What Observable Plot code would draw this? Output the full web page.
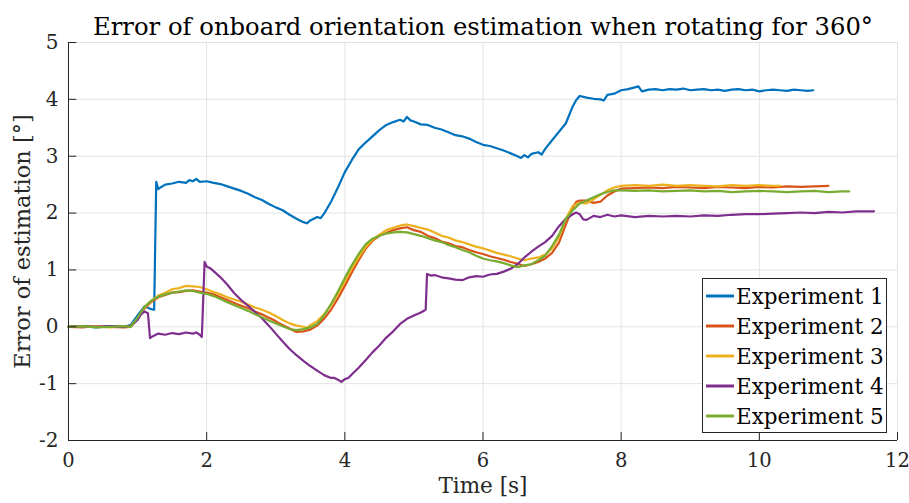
<!DOCTYPE html>
<html>
<head>
<meta charset="utf-8">
<script src="https://cdn.jsdelivr.net/npm/d3@7"></script>
<script src="https://cdn.jsdelivr.net/npm/@observablehq/plot@0.6"></script>
<style>
  html, body { margin: 0; padding: 0; background: #fff; }
  #wrap { position: relative; width: 909px; height: 503px; font-family: "DejaVu Serif", serif; }
  #legend { position: absolute; left: 702px; top: 278px; width: 185px; height: 155px; border: 1px solid #262626; background: #fff; box-sizing: border-box; padding-top: 2px; }
  .item { display: flex; align-items: center; height: 30px; font-size: 21.5px; color: #000; }
  .item svg { margin-left: 3px; margin-right: 2px; }
</style>
</head>
<body>
<div id="wrap"><div id="legend"></div></div>
<script>
const title = "Error of onboard orientation estimation when rotating for 360°";
const xLabel = "Time [s]";
const yLabel = "Error of estimation [°]";
const names = ["Experiment 1", "Experiment 2", "Experiment 3", "Experiment 4", "Experiment 5"];
const colors = ["#0072BD", "#D95319", "#EDB120", "#7E2F8E", "#77AC30"];
const xTicks = [0, 2, 4, 6, 8, 10, 12];
const yTicks = [-2, -1, 0, 1, 2, 3, 4, 5];

// [time s, error °]
const exp1 = [[0,0],[0.2,0.01],[0.4,-0.01],[0.6,0.01],[0.8,0],[0.9,0.03],[1.0,0.2],[1.1,0.36],[1.2,0.31],[1.24,0.3],[1.27,2.55],[1.3,2.42],[1.33,2.45],[1.4,2.5],[1.5,2.52],[1.6,2.55],[1.7,2.53],[1.75,2.58],[1.8,2.56],[1.85,2.6],[1.9,2.55],[2.0,2.56],[2.1,2.53],[2.2,2.51],[2.3,2.47],[2.4,2.43],[2.5,2.39],[2.6,2.34],[2.7,2.28],[2.8,2.23],[2.9,2.16],[3.0,2.1],[3.1,2.05],[3.2,1.97],[3.3,1.9],[3.4,1.84],[3.45,1.82],[3.5,1.87],[3.6,1.93],[3.65,1.91],[3.7,1.99],[3.8,2.2],[3.9,2.45],[4.0,2.72],[4.1,2.93],[4.2,3.12],[4.3,3.24],[4.4,3.35],[4.5,3.46],[4.6,3.55],[4.7,3.6],[4.8,3.64],[4.85,3.61],[4.9,3.69],[4.95,3.63],[5.0,3.61],[5.1,3.56],[5.2,3.55],[5.3,3.5],[5.4,3.47],[5.5,3.42],[5.6,3.37],[5.7,3.35],[5.8,3.31],[5.9,3.25],[6.0,3.2],[6.1,3.18],[6.2,3.14],[6.3,3.1],[6.4,3.05],[6.5,3.0],[6.55,2.97],[6.6,3.02],[6.65,2.98],[6.7,3.04],[6.8,3.07],[6.85,3.03],[6.9,3.13],[7.0,3.28],[7.1,3.43],[7.2,3.58],[7.3,3.88],[7.35,3.99],[7.4,4.06],[7.5,4.03],[7.6,4.01],[7.7,4.0],[7.75,3.98],[7.8,4.08],[7.9,4.1],[8.0,4.16],[8.1,4.18],[8.2,4.21],[8.25,4.23],[8.3,4.14],[8.4,4.17],[8.5,4.18],[8.6,4.16],[8.7,4.18],[8.8,4.17],[8.9,4.19],[9.0,4.16],[9.1,4.17],[9.2,4.18],[9.3,4.16],[9.4,4.17],[9.5,4.15],[9.6,4.17],[9.7,4.18],[9.8,4.16],[9.9,4.17],[10.0,4.14],[10.1,4.16],[10.2,4.17],[10.3,4.16],[10.4,4.15],[10.5,4.17],[10.6,4.16],[10.7,4.15],[10.78,4.16]];
const exp2 = [[0,0],[0.2,-0.01],[0.4,0.01],[0.6,0],[0.8,-0.01],[0.9,0],[1.0,0.14],[1.1,0.32],[1.2,0.44],[1.3,0.52],[1.4,0.56],[1.5,0.6],[1.6,0.61],[1.7,0.63],[1.8,0.64],[1.9,0.62],[2.0,0.6],[2.1,0.57],[2.2,0.52],[2.3,0.47],[2.4,0.42],[2.5,0.37],[2.6,0.33],[2.7,0.27],[2.8,0.22],[2.9,0.16],[3.0,0.1],[3.1,0.03],[3.2,-0.03],[3.3,-0.09],[3.4,-0.08],[3.5,-0.05],[3.6,0.02],[3.7,0.14],[3.8,0.3],[3.9,0.5],[4.0,0.72],[4.1,0.95],[4.2,1.17],[4.3,1.37],[4.4,1.51],[4.5,1.6],[4.6,1.65],[4.7,1.7],[4.8,1.73],[4.9,1.75],[5.0,1.7],[5.1,1.67],[5.2,1.6],[5.3,1.56],[5.4,1.5],[5.5,1.47],[5.6,1.42],[5.7,1.4],[5.8,1.35],[5.9,1.31],[6.0,1.28],[6.1,1.24],[6.2,1.21],[6.3,1.18],[6.4,1.14],[6.5,1.11],[6.6,1.07],[6.7,1.1],[6.8,1.14],[6.9,1.2],[7.0,1.3],[7.1,1.48],[7.2,1.8],[7.3,2.1],[7.35,2.2],[7.4,2.22],[7.5,2.22],[7.6,2.18],[7.7,2.2],[7.8,2.31],[7.9,2.38],[8.0,2.43],[8.2,2.44],[8.4,2.45],[8.6,2.44],[8.8,2.46],[9.0,2.45],[9.2,2.44],[9.4,2.46],[9.6,2.45],[9.8,2.44],[10.0,2.46],[10.2,2.45],[10.4,2.47],[10.6,2.46],[10.8,2.47],[11.0,2.48]];
const exp3 = [[0,0.01],[0.2,0],[0.4,0.01],[0.6,-0.01],[0.8,0.01],[0.9,0],[1.0,0.15],[1.1,0.34],[1.2,0.46],[1.3,0.55],[1.4,0.6],[1.5,0.66],[1.6,0.68],[1.7,0.72],[1.8,0.71],[1.9,0.7],[2.0,0.66],[2.1,0.61],[2.2,0.57],[2.3,0.52],[2.4,0.48],[2.5,0.44],[2.6,0.39],[2.7,0.34],[2.8,0.3],[2.9,0.25],[3.0,0.19],[3.1,0.12],[3.2,0.06],[3.3,0.02],[3.4,0.0],[3.45,-0.02],[3.5,0.03],[3.6,0.1],[3.7,0.22],[3.8,0.38],[3.9,0.58],[4.0,0.8],[4.1,1.02],[4.2,1.22],[4.3,1.4],[4.4,1.53],[4.5,1.62],[4.6,1.7],[4.7,1.74],[4.8,1.78],[4.9,1.8],[5.0,1.77],[5.1,1.74],[5.2,1.71],[5.3,1.66],[5.4,1.6],[5.5,1.57],[5.6,1.52],[5.7,1.49],[5.8,1.45],[5.9,1.41],[6.0,1.38],[6.1,1.34],[6.2,1.3],[6.3,1.27],[6.4,1.24],[6.5,1.2],[6.6,1.17],[6.7,1.2],[6.8,1.22],[6.9,1.27],[7.0,1.38],[7.1,1.58],[7.2,1.9],[7.3,2.13],[7.4,2.18],[7.5,2.17],[7.6,2.24],[7.7,2.32],[7.8,2.4],[7.9,2.45],[8.0,2.48],[8.2,2.49],[8.4,2.48],[8.6,2.5],[8.8,2.48],[9.0,2.49],[9.2,2.48],[9.4,2.47],[9.6,2.49],[9.8,2.48],[10.0,2.49],[10.2,2.48],[10.3,2.48]];
const exp4 = [[0,0],[0.2,0.01],[0.4,0],[0.6,0.01],[0.8,0],[0.9,0.01],[1.0,0.12],[1.05,0.22],[1.1,0.27],[1.15,0.24],[1.18,-0.2],[1.2,-0.18],[1.3,-0.12],[1.4,-0.14],[1.5,-0.11],[1.6,-0.13],[1.7,-0.1],[1.8,-0.12],[1.85,-0.1],[1.9,-0.14],[1.93,-0.18],[1.97,1.14],[2.0,1.06],[2.05,1.03],[2.1,0.98],[2.2,0.87],[2.3,0.74],[2.4,0.59],[2.5,0.47],[2.6,0.37],[2.7,0.26],[2.8,0.15],[2.9,0.02],[3.0,-0.12],[3.1,-0.26],[3.2,-0.39],[3.3,-0.5],[3.4,-0.6],[3.5,-0.69],[3.6,-0.77],[3.7,-0.85],[3.8,-0.9],[3.85,-0.9],[3.9,-0.93],[3.95,-0.97],[4.0,-0.92],[4.05,-0.9],[4.1,-0.84],[4.2,-0.72],[4.3,-0.59],[4.4,-0.45],[4.5,-0.33],[4.6,-0.19],[4.7,-0.08],[4.8,0.05],[4.9,0.14],[5.0,0.2],[5.1,0.25],[5.17,0.3],[5.19,0.93],[5.25,0.9],[5.3,0.91],[5.4,0.87],[5.5,0.85],[5.6,0.83],[5.7,0.82],[5.8,0.87],[5.9,0.89],[6.0,0.88],[6.1,0.92],[6.2,0.93],[6.3,0.97],[6.4,1.02],[6.5,1.1],[6.6,1.22],[6.7,1.32],[6.8,1.41],[6.9,1.49],[7.0,1.6],[7.1,1.77],[7.2,1.9],[7.3,1.98],[7.35,2.01],[7.4,1.98],[7.45,1.89],[7.5,1.88],[7.6,1.95],[7.7,1.93],[7.8,1.97],[7.9,1.94],[8.0,1.96],[8.2,1.93],[8.4,1.95],[8.6,1.94],[8.8,1.95],[9.0,1.94],[9.2,1.96],[9.4,1.95],[9.6,1.97],[9.8,1.98],[10.0,1.98],[10.2,1.99],[10.4,2.0],[10.6,2.01],[10.8,2.0],[11.0,2.02],[11.2,2.01],[11.4,2.03],[11.6,2.03],[11.66,2.03]];
const exp5 = [[0,0],[0.2,0.01],[0.4,-0.01],[0.6,0],[0.8,0.01],[0.9,0],[1.0,0.16],[1.1,0.35],[1.2,0.46],[1.3,0.53],[1.4,0.57],[1.5,0.6],[1.6,0.62],[1.7,0.64],[1.8,0.63],[1.9,0.6],[2.0,0.58],[2.1,0.54],[2.2,0.49],[2.3,0.43],[2.4,0.38],[2.5,0.33],[2.6,0.28],[2.7,0.22],[2.8,0.17],[2.9,0.11],[3.0,0.06],[3.1,0.01],[3.2,-0.04],[3.3,-0.06],[3.4,-0.04],[3.5,-0.01],[3.6,0.05],[3.7,0.2],[3.8,0.4],[3.9,0.62],[4.0,0.86],[4.1,1.08],[4.2,1.28],[4.3,1.45],[4.4,1.55],[4.5,1.6],[4.6,1.64],[4.7,1.66],[4.8,1.67],[4.9,1.66],[5.0,1.63],[5.1,1.6],[5.2,1.56],[5.3,1.52],[5.4,1.49],[5.5,1.44],[5.6,1.4],[5.7,1.35],[5.8,1.31],[5.9,1.25],[6.0,1.2],[6.1,1.17],[6.2,1.15],[6.3,1.12],[6.4,1.08],[6.5,1.05],[6.6,1.08],[6.7,1.1],[6.8,1.17],[6.9,1.25],[7.0,1.42],[7.1,1.62],[7.2,1.9],[7.3,2.05],[7.4,2.17],[7.5,2.22],[7.6,2.28],[7.7,2.33],[7.8,2.37],[7.9,2.4],[8.0,2.4],[8.2,2.39],[8.4,2.4],[8.6,2.38],[8.8,2.39],[9.0,2.4],[9.2,2.38],[9.4,2.39],[9.6,2.37],[9.8,2.38],[10.0,2.39],[10.2,2.38],[10.4,2.37],[10.6,2.38],[10.8,2.39],[11.0,2.37],[11.2,2.38],[11.3,2.38]];

const series = [exp1, exp2, exp3, exp4, exp5];
const rows = series.flatMap((s, i) => s.map(([t, v]) => ({t, v, name: names[i]})));
const fmt = d => (d < 0 ? "-" + Math.abs(d) : String(d));
const ink = "#262626";
const gridColor = "#e3e3e3";

const chart = Plot.plot({
  width: 909,
  height: 503,
  marginLeft: 68,
  marginRight: 12,
  marginTop: 42,
  marginBottom: 63,
  x: {domain: [0, 12]},
  y: {domain: [-2, 5]},
  color: {domain: names, range: colors},
  style: {fontFamily: "DejaVu Serif, serif", fontSize: "20px", color: ink, background: "white"},
  marks: [
    Plot.ruleX(xTicks, {stroke: gridColor, strokeWidth: 1}),
    Plot.ruleY(yTicks, {stroke: gridColor, strokeWidth: 1}),
    Plot.lineY(rows, {x: "t", y: "v", z: "name", stroke: "name", strokeWidth: 2.2, strokeLinejoin: "round"}),
    Plot.ruleX([0], {stroke: ink, strokeWidth: 1}),
    Plot.ruleY([-2], {stroke: ink, strokeWidth: 1}),
    Plot.ruleX(xTicks, {y1: -2, y2: -1.86, stroke: ink}),
    Plot.ruleY(yTicks, {x1: 0, x2: 0.12, stroke: ink}),
    Plot.axisX(xTicks, {tickSize: 0, tickPadding: 13, tickFormat: fmt, label: null, fill: ink, fontSize: 19.5}),
    Plot.axisY(yTicks, {tickSize: 0, tickPadding: 10, tickFormat: fmt, label: null, fill: ink, fontSize: 20}),
    Plot.text([title], {frameAnchor: "top", dy: -25, fill: "#000", fontSize: 24.3}),
    Plot.text([xLabel], {frameAnchor: "bottom", dy: 52, fill: ink, fontSize: 21.5}),
    Plot.text([yLabel], {frameAnchor: "left", textAnchor: "middle", dx: -46, rotate: -90, fill: ink, fontSize: 22.5})
  ]
});
const wrap = document.getElementById("wrap");
wrap.insertBefore(chart, wrap.firstChild);

const legend = document.getElementById("legend");
names.forEach((n, i) => {
  const item = document.createElement("div");
  item.className = "item";
  item.innerHTML = `<svg width="28" height="6"><line x1="0" y1="3" x2="28" y2="3" stroke="${colors[i]}" stroke-width="3"/></svg><span>${n}</span>`;
  legend.appendChild(item);
});
</script>
</body>
</html>
